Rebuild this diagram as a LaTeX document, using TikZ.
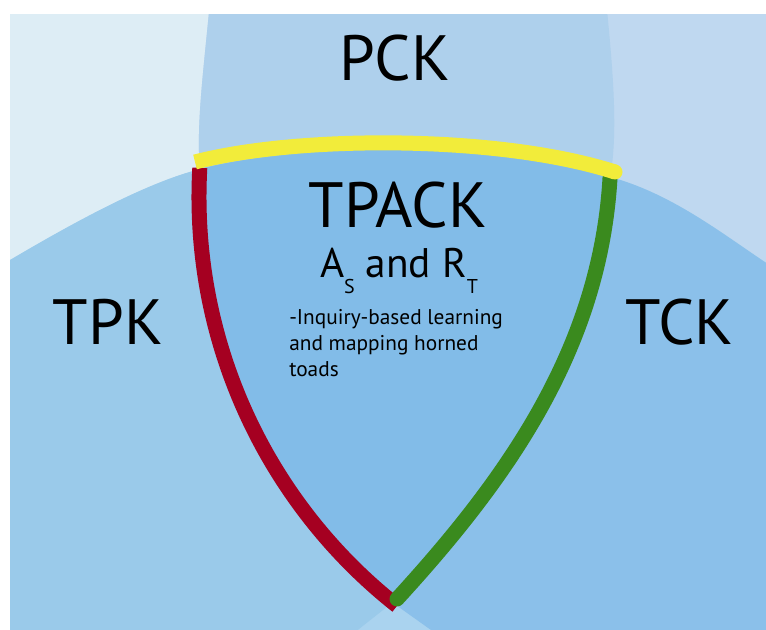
\documentclass[tikz,border=0pt]{standalone}
\usepackage{fontspec}
\setmainfont{PT Sans}
\begin{document}
\begin{tikzpicture}[x=0.75pt,y=-0.75pt]
\definecolor{ponly}{RGB}{221,237,245}
\definecolor{conly}{RGB}{191,216,240}
\definecolor{tonly}{RGB}{170,211,239}
\definecolor{pck}{RGB}{174,208,236}
\definecolor{tpk}{RGB}{154,202,234}
\definecolor{tck}{RGB}{139,192,234}
\definecolor{tpack}{RGB}{130,188,232}
\definecolor{yel}{RGB}{242,236,58}
\definecolor{redl}{RGB}{165,0,33}
\definecolor{grnl}{RGB}{58,138,30}
\tikzset{
  big/.style={font=\fontsize{48}{48}\selectfont, inner sep=0pt},
  mid/.style={font=\fontsize{31}{31}\selectfont, inner sep=0pt, anchor=base},
  small/.style={font=\fontsize{16}{19.5}\selectfont, inner sep=0pt, align=left, anchor=north west},
  edge/.style={line width=11.25pt, line cap=butt}
}
\newcommand{\subsc}[1]{\raisebox{-11.5pt}{\fontsize{15}{15}\selectfont #1}}
% region outlines (pixel coordinates, y downwards)
\def\Creg{(211,-10) .. controls (205,60) and (196,120) .. (199.8,167.9) arc[start angle=183.2, end angle=128.3, radius=521] -- (445,640) -- (780,640) -- (780,-10) -- cycle}
\def\Preg{(605,-10) .. controls (612,60) and (619,130) .. (610,178) .. controls (600,350) and (505,481) .. (397,599) -- (345,640) -- (-10,640) -- (-10,-10) -- cycle}
\def\Treg{(-10,272) .. controls (60,230) and (140,185) .. (197,170) .. controls (300,142) and (500,142) .. (617,179) .. controls (680,198) and (730,240) .. (780,272) -- (780,640) -- (-10,640) -- cycle}
\useasboundingbox (0,0) rectangle (766,630);
\fill[white] (0,0) rectangle (766,630);
\begin{scope}
  \clip (10,15) rectangle (766,630);
  \fill[tonly] (10,15) rectangle (766,630);
  \fill[ponly] \Preg;
  \fill[conly] \Creg;
  \fill[tonly] \Treg;
  \begin{scope}
    \clip \Preg;
    \fill[pck] \Creg;
    \fill[tpk] \Treg;
    \begin{scope}
      \clip \Creg;
      \fill[tpack] \Treg;
    \end{scope}
  \end{scope}
  \begin{scope}
    \clip \Creg;
    \begin{scope}
      \clip \Treg;
      \fill[tck] (10,15) rectangle (766,630);
      \clip \Preg;
      \fill[tpack] (10,15) rectangle (766,630);
    \end{scope}
  \end{scope}
\end{scope}
% boundary strokes
\draw[edge, redl] (199.8,167.9) arc[start angle=183.2, end angle=128.3, radius=521];
\draw[edge, grnl, line cap=round] (610,178) .. controls (600,350) and (505,481) .. (397,599);
\draw[edge, yel] (195,162) .. controls (300,135) and (500,135) .. (615,172);
\fill[yel] (615,172) circle[radius=7.5];
% labels
\node[big] (pcklab) at (395,58) {PCK};
\node[big] (tpacklab) at (398,205) {TPACK};
\node[mid] (asrt) at (399,278) {A\subsc{S} and R\subsc{T}};
\node[big] (tpklab) at (108,322) {TPK};
\node[big] (tcklab) at (680,322) {TCK};
\node[small] (note) at (289,309) {-Inquiry-based learning\\and mapping horned\\toads};
\end{tikzpicture}
\end{document}
